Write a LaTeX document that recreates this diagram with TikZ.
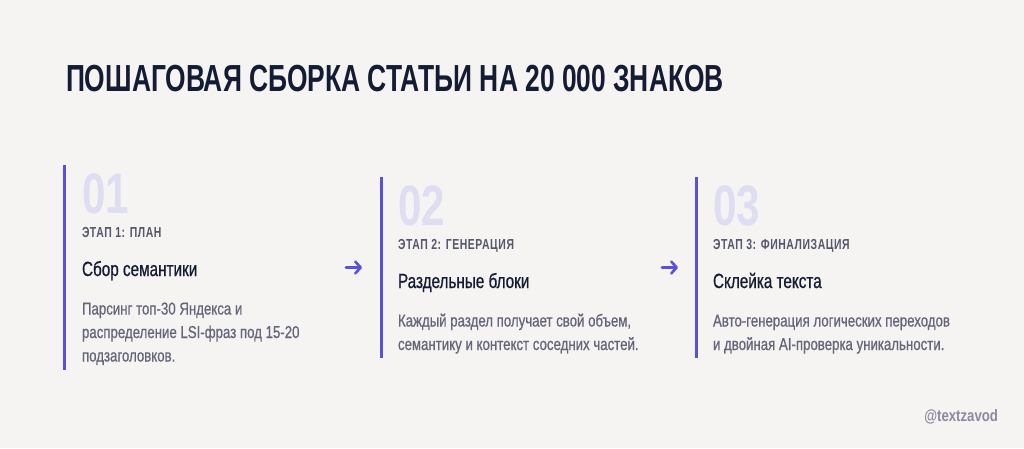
\documentclass[tikz,border=0pt]{standalone}
\usepackage{fontspec}
\usetikzlibrary{arrows.meta}
\setmainfont{Liberation Sans}
\newfontfamily\titlefont{Liberation Sans}[FakeStretch=0.7]
\newfontfamily\bodyfont{Liberation Sans}[FakeStretch=0.77,FakeBold=0.7]
\newfontfamily\headfont{Liberation Sans}[FakeStretch=0.745,FakeBold=0.7]
\newfontfamily\labelfont{Liberation Sans}[FakeStretch=0.72,LetterSpace=4]
\newfontfamily\numfont{Liberation Sans}[FakeStretch=0.74]
\newfontfamily\handfont{Liberation Sans}[FakeStretch=0.8]
\definecolor{bgc}{HTML}{F5F4F2}
\definecolor{navy}{HTML}{141B34}
\definecolor{indigo}{HTML}{5A50E0}
\definecolor{numc}{HTML}{DFDDF2}
\definecolor{labc}{HTML}{56566A}
\definecolor{bodyc}{HTML}{66667A}
\definecolor{handc}{HTML}{8C8A9C}
\tikzset{
  txt/.style={anchor=base west, inner sep=0pt, outer sep=0pt},
  titletxt/.style={txt, text=navy, font=\titlefont\bfseries\fontsize{37.7}{40}\selectfont},
  numtxt/.style={txt, text=numc, font=\numfont\bfseries\fontsize{57}{60}\selectfont},
  labtxt/.style={txt, text=labc, font=\labelfont\bfseries\fontsize{14.5}{16}\selectfont},
  headtxt/.style={txt, text=navy, font=\headfont\fontsize{20.5}{24}\selectfont},
  bodytxt/.style={txt, text=bodyc, font=\bodyfont\fontsize{17.2}{23}\selectfont},
  bar/.style={draw=indigo, line width=3pt},
  flow/.style={draw=indigo, line width=2.6pt, line cap=round,
    -{Straight Barb[length=5.5pt,width=12pt,line width=2.6pt,round]}},
}
\begin{document}
\begin{tikzpicture}[x=1pt,y=-1pt]
\useasboundingbox[fill=bgc] (0,0) rectangle (1024,448);
% title
\node[titletxt] (title) at (66,91) {ПОШАГОВАЯ СБОРКА СТАТЬИ НА 20 000 ЗНАКОВ};
% panel 1
\draw[bar] (64.5,165) coordinate (b1t) -- (64.5,370) coordinate (b1b);
\node[numtxt] (n1) at (82,213) {01};
\node[labtxt] (l1) at (82,237.5) {ЭТАП 1: ПЛАН};
\node[headtxt] (h1) at (82,276) {Сбор семантики};
\node[bodytxt] (p1a) at (82,314.5) {Парсинг топ-30 Яндекса и};
\node[bodytxt] (p1b) at (82,338) {распределение LSI-фраз под 15-20};
\node[bodytxt] (p1c) at (82,361.5) {подзаголовков.};
% panel 2
\draw[bar] (381,177) coordinate (b2t) -- (381,358) coordinate (b2b);
\node[numtxt] (n2) at (398,225) {02};
\node[labtxt] (l2) at (398,249.5) {ЭТАП 2: ГЕНЕРАЦИЯ};
\node[headtxt] (h2) at (398,288) {Раздельные блоки};
\node[bodytxt] (p2a) at (398,326.5) {Каждый раздел получает свой объем,};
\node[bodytxt] (p2b) at (398,350) {семантику и контекст соседних частей.};
% panel 3
\draw[bar] (696.5,177) coordinate (b3t) -- (696.5,358) coordinate (b3b);
\node[numtxt] (n3) at (713,225) {03};
\node[labtxt] (l3) at (713,249.5) {ЭТАП 3: ФИНАЛИЗАЦИЯ};
\node[headtxt] (h3) at (713,288) {Склейка текста};
\node[bodytxt] (p3a) at (713,326.5) {Авто-генерация логических переходов};
\node[bodytxt] (p3b) at (713,350) {и двойная AI-проверка уникальности.};
% arrows
\coordinate (a1s) at (346,267.5);
\coordinate (a1e) at (362,267.5);
\coordinate (a2s) at (662,267.5);
\coordinate (a2e) at (678,267.5);
\draw[flow] (a1s) -- (a1e);
\draw[flow] (a2s) -- (a2e);
% handle
\node[txt, text=handc, font=\handfont\bfseries\fontsize{16.5}{18}\selectfont, anchor=base east] (handle) at (998,421) {@textzavod};
\end{tikzpicture}
\end{document}
